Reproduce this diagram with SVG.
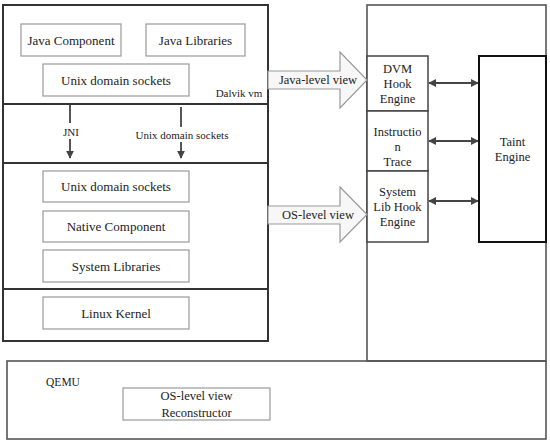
<svg xmlns="http://www.w3.org/2000/svg" width="550" height="444" viewBox="0 0 550 444">
<defs>
<style>
text{font-family:'Liberation Serif','DejaVu Serif',serif;fill:#222;text-anchor:middle}
.t13{font-size:13px}
.t12{font-size:12.5px}
.t11{font-size:11px}
.inner{fill:#fff;stroke:#999;stroke-width:1.2}
.outer{fill:none;stroke:#333;stroke-width:2}
.mod{fill:#fff;stroke:#444;stroke-width:1.5}
.big{fill:none;stroke:#555;stroke-width:1.6}
.block{fill:#f7f7f7;stroke:#999;stroke-width:1.2}
.conn{stroke:#444;stroke-width:1.8;fill:none}
</style>
<marker id="ah" viewBox="0 0 10 10" refX="9" refY="5" markerWidth="4.5" markerHeight="4.5" orient="auto-start-reverse">
<path d="M0,0 L10,5 L0,10 z" fill="#444"/>
</marker>
</defs>
<g font-family="Liberation Serif, DejaVu Serif, serif">
<g id="qemu">
<rect x="7" y="361" width="539" height="78" class="big"/>
<text class="t11" x="63" y="386" style="font-size:11.5px">QEMU</text>
</g>
<g id="right-host">
<rect x="367" y="5" width="179" height="356" class="big"/>
</g>

<g id="android-stack">
<rect x="3" y="5" width="265" height="336" class="outer"/>
<line x1="3" y1="104" x2="268" y2="104" class="outer"/>
<line x1="3" y1="163" x2="268" y2="163" class="outer"/>
<line x1="3" y1="289" x2="268" y2="289" class="outer"/>
<text class="t11" x="239" y="96.5">Dalvik vm</text>
</g>

<g id="java-component">
<rect x="21" y="24" width="100" height="32" class="inner"/>
<text class="t13" x="71" y="44.5">Java Component</text>
</g>
<g id="java-libraries">
<rect x="146" y="24" width="99" height="32" class="inner"/>
<text class="t13" x="195.5" y="44.5">Java Libraries</text>
</g>
<g id="unix-sockets-top">
<rect x="43" y="64" width="146" height="32" class="inner"/>
<text class="t13" x="116" y="84.5">Unix domain sockets</text>
</g>
<g id="unix-sockets-bottom">
<rect x="43" y="171" width="146" height="31" class="inner"/>
<text class="t13" x="116" y="191">Unix domain sockets</text>
</g>
<g id="native-component">
<rect x="43" y="211" width="146" height="31" class="inner"/>
<text class="t13" x="116" y="231">Native Component</text>
</g>
<g id="system-libraries">
<rect x="43" y="250" width="146" height="32" class="inner"/>
<text class="t13" x="116" y="270.5">System Libraries</text>
</g>
<g id="linux-kernel">
<rect x="43" y="297" width="146" height="32" class="inner"/>
<text class="t13" x="116" y="317.5">Linux Kernel</text>
</g>

<g id="dvm-hook">
<rect x="367" y="56" width="61" height="55" class="mod"/>
<text class="t12" x="397.5" y="73">DVM</text>
<text class="t12" x="397.5" y="88">Hook</text>
<text class="t12" x="397.5" y="103">Engine</text>
</g>
<g id="instruction-trace">
<rect x="367" y="111" width="61" height="60" class="mod"/>
<text class="t12" x="397.5" y="136">Instructio</text>
<text class="t12" x="397.5" y="151">n</text>
<text class="t12" x="397.5" y="166">Trace</text>
</g>
<g id="syslib-hook">
<rect x="367" y="171" width="61" height="71" class="mod"/>
<text class="t12" x="397.5" y="196">System</text>
<text class="t12" x="397.5" y="211">Lib Hook</text>
<text class="t12" x="397.5" y="225.5">Engine</text>
</g>
<g id="taint-engine">
<rect x="479" y="56" width="67" height="186" fill="#fff" stroke="#111" stroke-width="2"/>
<text class="t12" x="512.5" y="146">Taint</text>
<text class="t12" x="512.5" y="160.5">Engine</text>
</g>

<g id="reconstructor">
<rect x="123" y="388" width="147" height="32" class="inner"/>
<text class="t12" x="196.5" y="400">OS-level view</text>
<text class="t12" x="196.5" y="416.5">Reconstructor</text>
</g>

<g id="connectors">
<polygon class="block" points="268,71 340,71 340,52 367,80 340,108 340,89 268,89"/>
<text class="t12" x="318" y="84">Java-level view</text>
<polygon class="block" points="268,206 340,206 340,187 367,214.5 340,242 340,224 268,224"/>
<text class="t12" x="318" y="218.5">OS-level view</text>

<line x1="70" y1="105" x2="70" y2="123" class="conn"/>
<line x1="70" y1="139" x2="70" y2="158" class="conn" marker-end="url(#ah)"/>
<text class="t11" x="71" y="135.5">JNI</text>
<line x1="181" y1="107" x2="181" y2="127" class="conn"/>
<line x1="181" y1="142" x2="181" y2="158" class="conn" marker-end="url(#ah)"/>
<text class="t11" x="182" y="139">Unix domain sockets</text>

<line x1="429" y1="83" x2="478" y2="83" class="conn" marker-start="url(#ah)" marker-end="url(#ah)"/>
<line x1="429" y1="141" x2="478" y2="141" class="conn" marker-start="url(#ah)" marker-end="url(#ah)"/>
<line x1="429" y1="201" x2="478" y2="201" class="conn" marker-start="url(#ah)" marker-end="url(#ah)"/>
</g>
</g>
</svg>
